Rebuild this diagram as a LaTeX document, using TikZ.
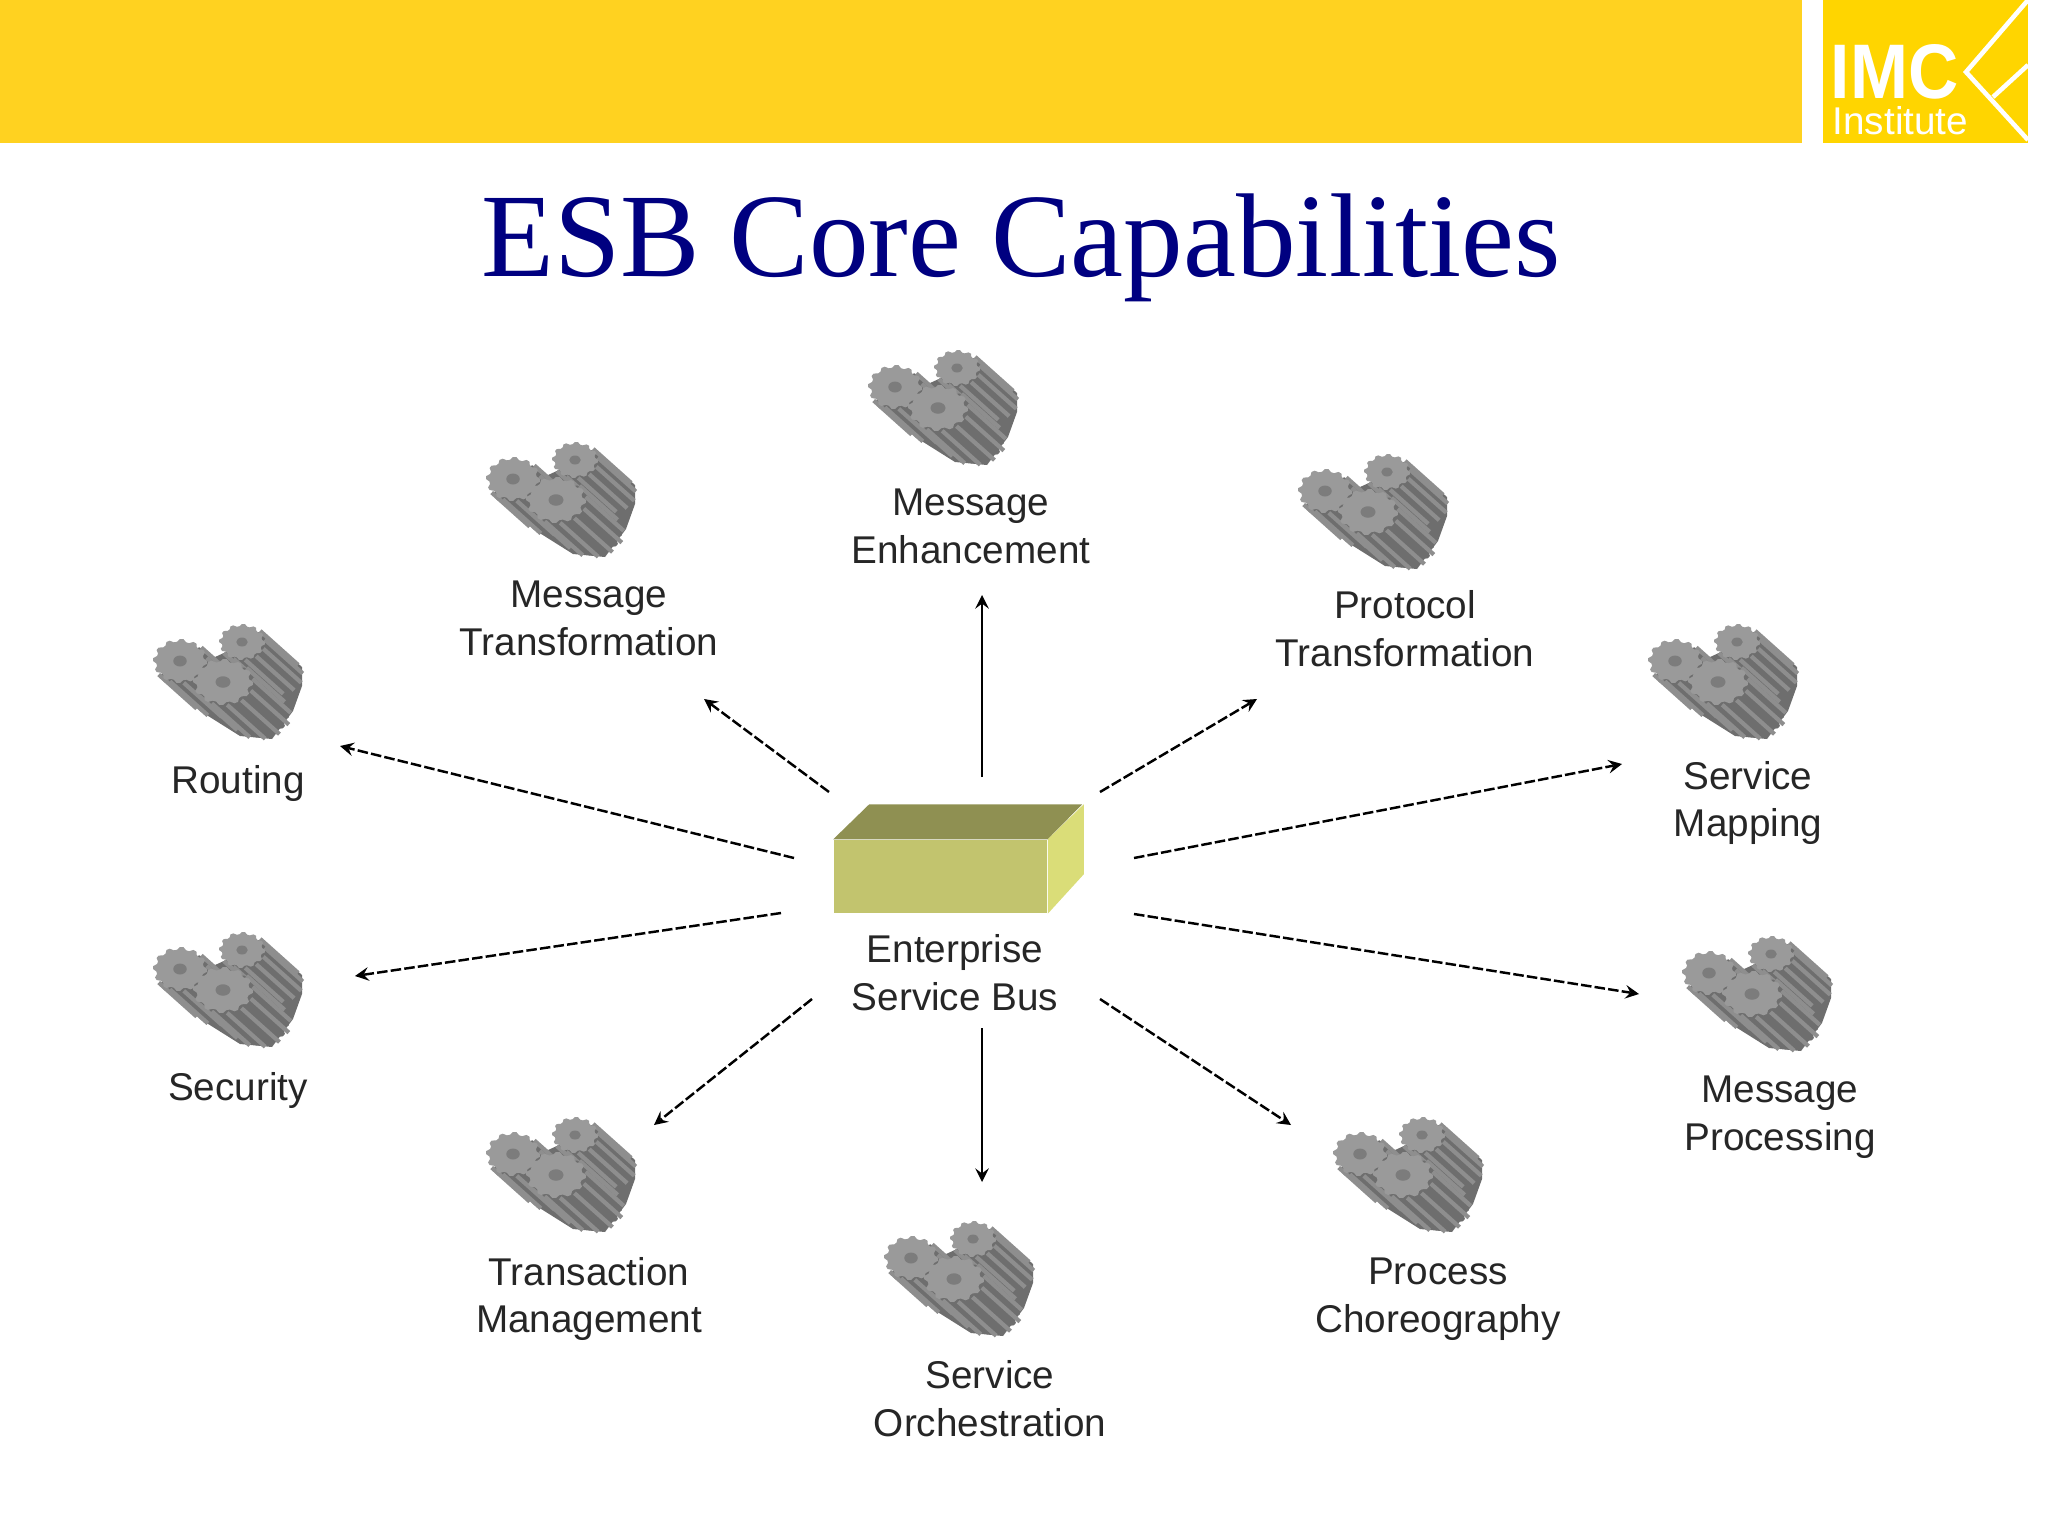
\documentclass[tikz,border=0pt]{standalone}
\usepackage{xcolor}
\usepackage{fontspec}
\setmainfont{Liberation Sans}
\newfontfamily\titlefont{Liberation Serif}
\usetikzlibrary{arrows}
\usetikzlibrary{positioning}
\usetikzlibrary{calc}
\definecolor{barYellow}{HTML}{FFD220}
\definecolor{logoYellow}{HTML}{FFD500}
\definecolor{titleBlue}{HTML}{000080}
\definecolor{boxFront}{HTML}{C2C46E}
\definecolor{boxTop}{HTML}{8F9052}
\definecolor{boxSide}{HTML}{DADD78}
\definecolor{gearFace}{HTML}{9A9A9A}
\definecolor{gearDark}{HTML}{6E6E6E}
\definecolor{gearRib}{HTML}{8E8E8E}
\tikzstyle{capedge} = [draw,line width=0.7pt,-stealth]
\tikzstyle{brokenedge} = [capedge,dash pattern=on 3pt off 0.9pt]
\tikzstyle{caplabel} = [font=\fontsize{11}{13.6}\selectfont,align=center,text=black!85,inner sep=0pt]
% one toothed wheel: centre, rx, ry
\newcommand{\gearwheel}[4]{%
  \begin{scope}[shift={(#1,#2)}]
    \foreach \s in {36,30,24,18,12,6}
      \fill[gearDark,shift={(\s,\s*0.9)}] plot[samples=49,domain=0:360,variable=\t]
        ({#3*(0.88+0.12*(mod(\t,30)<15))*cos(\t)},{#4*(0.88+0.12*(mod(\t,30)<15))*sin(\t)}) -- cycle;
    \foreach \a in {-45,-15,...,135}
      \draw[gearRib,line width=1.2pt] ({#3*cos(\a+7)},{#4*sin(\a+7)}) -- ++(38,34);
    \fill[gearFace] plot[samples=49,domain=0:360,variable=\t]
      ({#3*(0.88+0.12*(mod(\t,30)<15))*cos(\t)},{#4*(0.88+0.12*(mod(\t,30)<15))*sin(\t)}) -- cycle;
    \fill[gearDark!90] (0,0) ellipse ({#3*0.25} and {#4*0.25});
  \end{scope}}
\tikzset{gearset/.pic={
    \fill[gearDark] (37,-49) -- (74,-16) -- (74,3) -- (65,28) -- (44,56) -- (12,53) -- (-23,31) -- (-65,-2) -- cycle;
    \gearwheel{-48}{-22}{27}{22}
    \gearwheel{14}{-41}{23}{18}
    \gearwheel{-5}{-1}{30}{23}
  }}

\begin{document}
\begin{tikzpicture}[x=0.01cm,y=-0.01cm]
  \useasboundingbox (0,0) rectangle (2048,1536);

  % header
  \fill[barYellow] (0,0) rectangle (1802,143);
  \fill[logoYellow] (1823,0) rectangle (2028,143);
  \draw[white,line width=1.3pt] (2028,0) -- (1966,72) -- (2028,140);
  \draw[white,line width=1.3pt] (2028,65) -- (1993,97);
  \node[white,font=\bfseries\fontsize{22}{22}\selectfont,inner sep=0pt,anchor=base west,xscale=0.9] (logoname) at (1830,98) {IMC};
  \node[white,font=\fontsize{11}{12}\selectfont,inner sep=0pt,anchor=base west] (logosub) at (1832,134) {Institute};

  \node[text=titleBlue,font=\titlefont\fontsize{33.9}{34}\selectfont,inner sep=0pt] (title) at (1021,248) {ESB Core Capabilities};

  % the bus
  \node[rectangle,fill=boxFront,minimum width=2.13cm,minimum height=0.73cm,inner sep=0pt] (bus) at (940.5,876.5) {};
  \fill[boxTop] (bus.north west) -- ++(36,-35) -- ++(213,0) -- (bus.north east) -- cycle;
  \fill[boxSide] (bus.north east) -- ++(36,-35) -- ++(0,70) -- (bus.south east) -- cycle;
  \node[caplabel] (buslabel) at (955,973) {Enterprise\\Service Bus};

  % wheels
  \foreach \x/\y in {943/409, 561/501, 1373/513, 228/683, 1723/683, 228/991, 1757/995, 561/1176, 959/1280, 1408/1176}
    \pic at (\x,\y) {gearset};

  % capabilities
  \foreach \x/\y/\name/\label in {
      971/526/enhance/{Message\\Enhancement},
      589/618/transform/{Message\\Transformation},
      1405/629/protocol/{Protocol\\Transformation},
      238/783/routing/{Routing},
      1748/803/mapping/{Service\\Mapping},
      238/1090/security/{Security},
      1780/1117/processing/{Message\\Processing},
      589/1299/transact/{Transaction\\Management},
      990/1399/orchestr/{Service\\Orchestration},
      1438/1299/choreo/{Process\\Choreography}}
    \node[caplabel] (\name) at (\x,\y) {\label};

  % arrow ends
  \foreach \x/\y/\name in {
      982/777/s1, 982/595/e1,
      829/792/s2, 704/699/e2,
      794/858/s3, 340/746/e3,
      781/913/s4, 355/976/e4,
      812/999/s5, 654/1125/e5,
      982/1028/s6, 982/1182/e6,
      1100/999/s7, 1291/1125/e7,
      1134/914/s8, 1639/994/e8,
      1134/858/s9, 1622/764/e9,
      1100/792/s10, 1257/699/e10}
    \coordinate (\name) at (\x,\y);

  \foreach \source/ \dest in {s1/e1, s6/e6}
    \path[capedge] (\source) -- (\dest);
  \foreach \source/ \dest in {s2/e2, s3/e3, s4/e4, s5/e5, s7/e7, s8/e8, s9/e9, s10/e10}
    \path[brokenedge] (\source) -- (\dest);

\end{tikzpicture}
\end{document}
